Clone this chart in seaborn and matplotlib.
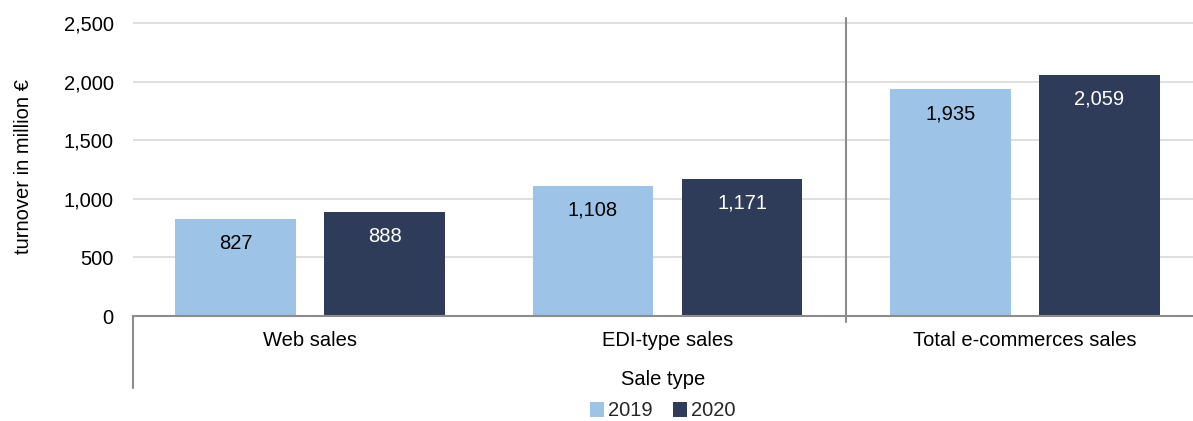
import matplotlib
matplotlib.use("Agg")
import matplotlib.pyplot as plt
import matplotlib.transforms as mtransforms
from matplotlib.patches import Patch
import seaborn as sns
import pandas as pd

categories = ["Web sales", "EDI-type sales", "Total e-commerces sales"]
years = ["2019", "2020"]
values_2019 = [827, 1108, 1935]
values_2020 = [888, 1171, 2059]
yticks = [0, 500, 1000, 1500, 2000, 2500]

df = pd.DataFrame({
    "Sale type": categories * 2,
    "year": [years[0]] * 3 + [years[1]] * 3,
    "value": values_2019 + values_2020,
})

sns.set_theme(style="white")
plt.rcParams["font.family"] = ["Liberation Sans", "DejaVu Sans"]

colors = {"2019": "#9dc3e6", "2020": "#2f3c59"}
FS = 14.5

fig = plt.figure(figsize=(11.93, 4.21), dpi=100)
ax = fig.add_axes([133 / 1193, (421 - 316) / 421, 1 - 133 / 1193, (316 - 18) / 421])

sns.barplot(data=df, x="Sale type", y="value", hue="year", hue_order=years,
            palette=colors, width=0.834, gap=0.19, ax=ax, legend=False,
            saturation=1, linewidth=0)

ax.set_xlim(-0.495, 2.47)
ax.set_ylim(0, 2500 * 298 / 293)
ax.set_yticks(yticks)
ax.set_yticklabels([f"{v:,}" for v in yticks])
ax.yaxis.grid(True, color="#d9d9d9", linewidth=1.2)
ax.set_axisbelow(True)
for s in ["top", "right", "left"]:
    ax.spines[s].set_visible(False)
ax.spines["bottom"].set_color("#8c8c8c")
ax.spines["bottom"].set_linewidth(1.5)
ax.tick_params(axis="both", length=0, labelsize=FS, colors="black")
ax.tick_params(axis="y", pad=14)
ax.tick_params(axis="x", pad=11)
ax.set_ylabel("turnover in million €", fontsize=FS, labelpad=22, color="black")
ax.set_xlabel("Sale type", fontsize=FS, labelpad=14, color="black")

# value labels
for container, col in zip(ax.containers, ["black", "white"]):
    for bar in container:
        h = bar.get_height()
        ax.annotate(f"{h:,.0f}", (bar.get_x() + bar.get_width() / 2, h),
                    xytext=(0, -17.5), textcoords="offset points",
                    ha="center", va="center", fontsize=FS, color=col)

# separator line and left bracket line
trans = mtransforms.blended_transform_factory(ax.transData, ax.transAxes)
ax.plot([1.5, 1.5], [-6 / 298, 1.0], transform=trans, color="#8c8c8c",
        linewidth=1.5, clip_on=False)
ax.plot([-0.495, -0.495], [-72 / 298, 0], transform=trans, color="#8c8c8c",
        linewidth=1.5, clip_on=False)

handles = [Patch(facecolor=colors[y], edgecolor="none", label=y) for y in years]
fig.legend(handles=handles, loc="center", bbox_to_anchor=(663 / 1193, 1 - 411 / 421),
           ncol=2, frameon=False, fontsize=FS, handlelength=0.7, handleheight=0.7,
           handletextpad=0.2, columnspacing=1.0)

fig.savefig("out.png", dpi=100)
